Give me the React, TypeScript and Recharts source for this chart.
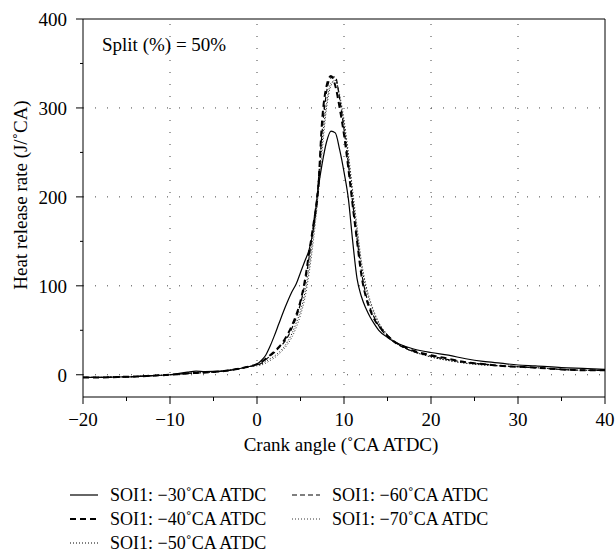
import { LineChart, Line, XAxis, YAxis, ReferenceLine } from "recharts";

// crank angle (°CA ATDC)
const angle = [
  -20, -18, -16, -14, -12, -10, -8, -7, -6, -4, -2, -1, 0, 0.5, 1, 1.5, 2, 2.5, 3, 3.5, 4, 4.5, 5,
  5.5, 6, 6.5, 7, 7.5, 8, 8.5, 9, 9.5, 10, 10.5, 11, 11.5, 12, 12.5, 13, 13.5, 14, 15, 16, 17, 18,
  20, 22, 24, 26, 28, 30, 32, 35, 38, 40,
];

// heat release rate (J/°CA) per SOI1 case
const soi30 = [
  -3, -3, -2.5, -2, -1, 0, 3, 4, 3.5, 4, 7, 9, 12, 16, 22, 32, 44, 57, 70, 82, 93, 102, 115,
  128, 141, 165, 207, 238, 262, 274, 272, 253, 228, 198, 150, 108, 88, 75, 65, 57, 50, 42, 36, 32, 29,
  25, 22, 18, 15, 13, 11, 10, 8, 7, 6,
];
const soi40 = [
  -3, -3, -2.5, -2, -1, 0, 1.5, 2, 2.5, 4, 7, 9, 12, 14, 18, 22, 26, 31, 37, 45, 55, 67, 83,
  106, 138, 170, 205, 288, 325, 336, 325, 300, 270, 232, 190, 150, 112, 88, 73, 62, 55, 44, 36, 31, 27,
  22, 18, 14, 12, 10, 9, 8, 6, 5, 5,
];
const soi50 = [
  -3, -3, -2.5, -2, -1, 0, 1.5, 2, 2.5, 4, 7, 9, 11, 12, 15, 18, 21, 25, 30, 37, 46, 58, 72,
  92, 122, 160, 205, 262, 305, 328, 331, 312, 282, 245, 202, 162, 124, 99, 81, 68, 58, 45, 36, 30, 26,
  20, 16, 13, 11, 10, 9, 8, 6, 5, 5,
];
const soi60 = [
  -3, -3, -2.5, -2, -1, 0, 1.5, 2, 2.5, 4, 7, 9, 11, 13, 17, 21, 25, 30, 35, 42, 52, 64, 80,
  102, 133, 170, 212, 275, 318, 334, 335, 310, 276, 237, 193, 153, 116, 91, 75, 64, 55, 43, 35, 30, 26,
  21, 17, 14, 12, 10, 9, 8, 6, 5, 5,
];
const soi70 = [
  -3, -3, -2.5, -2, -1, 0, 1.5, 2, 2.5, 4, 7, 9, 10, 11, 13, 16, 19, 23, 28, 34, 42, 53, 67,
  86, 115, 152, 198, 252, 300, 325, 331, 315, 287, 250, 207, 167, 128, 102, 84, 70, 59, 45, 36, 30, 26,
  20, 16, 13, 11, 10, 9, 8, 6, 5, 5,
];

const xTicks = [-20, -15, -10, -5, 0, 5, 10, 15, 20, 25, 30, 35, 40];
const yTicks = [0, 50, 100, 150, 200, 250, 300, 350, 400];
const gridX = [-10, 0, 10, 20, 30];
const gridY = [0, 100, 200, 300];

const series = [
  { key: "s30", label: "SOI1: −30˚CA ATDC", width: 1.2, dash: undefined },
  { key: "s40", label: "SOI1: −40˚CA ATDC", width: 2, dash: "6 4" },
  { key: "s50", label: "SOI1: −50˚CA ATDC", width: 1, dash: "1 2" },
  { key: "s60", label: "SOI1: −60˚CA ATDC", width: 1.2, dash: "5 3" },
  { key: "s70", label: "SOI1: −70˚CA ATDC", width: 0.8, dash: "1 2" },
];

const data = angle.map((a, i) => ({
  angle: a,
  s30: soi30[i],
  s40: soi40[i],
  s50: soi50[i],
  s60: soi60[i],
  s70: soi70[i],
}));

const FONT = '"Liberation Serif", "Times New Roman", serif';
const fmt = (v: number) => (v < 0 ? "−" + Math.abs(v) : String(v));

const XTick = (props: any) => {
  const { x, y, payload } = props;
  const major = payload.value % 10 === 0;
  return (
    <g>
      <line x1={x} x2={x} y1={y} y2={y + (major ? 7 : 4)} stroke="#000" />
      {major && (
        <text x={x} y={y + 29} textAnchor="middle" fontSize={19} fontFamily={FONT} fill="#000">
          {fmt(payload.value)}
        </text>
      )}
    </g>
  );
};

const YTick = (props: any) => {
  const { x, y, payload } = props;
  const major = payload.value % 100 === 0;
  return (
    <g>
      <line x1={x} x2={x - (major ? 7 : 3)} y1={y} y2={y} stroke="#000" />
      {major && (
        <text x={x - 16} y={y + 7} textAnchor="end" fontSize={19} fontFamily={FONT} fill="#000">
          {payload.value}
        </text>
      )}
    </g>
  );
};

const legendPos = [
  { left: 70, top: 495 },
  { left: 70, top: 519 },
  { left: 70, top: 543 },
  { left: 292, top: 495 },
  { left: 292, top: 519 },
];

export default function App() {
  return (
    <div
      style={{
        position: "absolute",
        left: 0,
        top: 0,
        width: 616,
        height: 554,
        background: "#fff",
        fontFamily: FONT,
        color: "#000",
      }}
    >
      <div style={{ position: "absolute", left: 0, top: 0 }}>
        <LineChart width={616} height={460} data={data} margin={{ top: 19, right: 11, bottom: 0, left: 0 }}>
          <XAxis
            dataKey="angle"
            type="number"
            domain={[-20, 40]}
            ticks={xTicks}
            tick={<XTick />}
            tickLine={false}
            tickSize={0}
            tickMargin={0}
            height={63}
            axisLine={{ stroke: "#000" }}
            interval={0}
          />
          <YAxis
            type="number"
            domain={[-25, 400]}
            ticks={yTicks}
            tick={<YTick />}
            tickLine={false}
            tickSize={0}
            tickMargin={0}
            width={83}
            axisLine={{ stroke: "#000" }}
            interval={0}
          />
          {gridX.map((v) => (
            <ReferenceLine key={"gx" + v} x={v} stroke="#444" strokeDasharray="1 11" />
          ))}
          {gridY.map((v) => (
            <ReferenceLine key={"gy" + v} y={v} stroke="#444" strokeDasharray="1 11" />
          ))}
          <ReferenceLine y={400} stroke="#000" />
          <ReferenceLine x={40} stroke="#000" />
          {series.map((s) => (
            <Line
              key={s.key}
              type="monotone"
              dataKey={s.key}
              stroke="#000"
              strokeWidth={s.width}
              strokeDasharray={s.dash}
              dot={false}
              isAnimationActive={false}
            />
          ))}
        </LineChart>
      </div>

      <div
        style={{
          position: "absolute",
          left: 102,
          top: 44,
          transform: "translateY(-50%)",
          fontSize: 19,
          lineHeight: 1,
          whiteSpace: "nowrap",
        }}
      >
        Split (%) = 50%
      </div>

      <div
        style={{
          position: "absolute",
          left: 20,
          top: 195,
          transform: "translate(-50%, -50%) rotate(-90deg)",
          fontSize: 19,
          lineHeight: 1,
          whiteSpace: "nowrap",
        }}
      >
        Heat release rate (J/˚CA)
      </div>

      <div
        style={{
          position: "absolute",
          left: 341,
          top: 444,
          transform: "translate(-50%, -50%)",
          fontSize: 19,
          lineHeight: 1,
          whiteSpace: "nowrap",
        }}
      >
        Crank angle (˚CA ATDC)
      </div>

      {series.map((s, i) => (
        <div
          key={"lg" + s.key}
          style={{
            position: "absolute",
            left: legendPos[i].left,
            top: legendPos[i].top,
            transform: "translateY(-50%)",
            display: "flex",
            alignItems: "center",
            fontSize: 18,
            lineHeight: 1,
            whiteSpace: "nowrap",
          }}
        >
          <svg width={28} height={10} style={{ marginRight: 12 }}>
            <line x1={0} x2={28} y1={5} y2={5} stroke="#000" strokeWidth={s.width} strokeDasharray={s.dash} />
          </svg>
          <span>{s.label}</span>
        </div>
      ))}
    </div>
  );
}
